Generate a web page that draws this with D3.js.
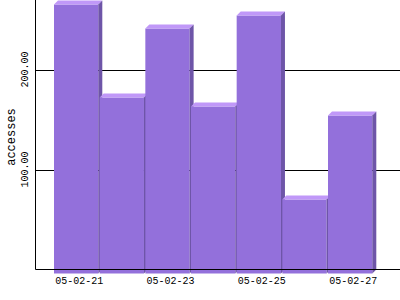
<!DOCTYPE html>
<html>
<head>
<meta charset="utf-8">
<script src="https://cdn.jsdelivr.net/npm/d3@7"></script>
<style>
  body { margin: 0; background: #fff; }
  svg { display: block; }
</style>
</head>
<body>
<div id="chart-area"></div>
<script>
const dates = ["05-02-21", "05-02-22", "05-02-23", "05-02-24", "05-02-25", "05-02-26", "05-02-27"];
const accesses = [269, 176, 245, 167, 258, 74, 158];
const yTicks = [100, 200];
const xTickLabels = ["05-02-21", "05-02-23", "05-02-25", "05-02-27"];

let width = 400, height = 300;
let depth = 4;
let axisX = 35.5, axisY = 269.5;

let svg = d3.select("#chart-area")
			.append("svg")
			.attr("width", width)
			.attr("height", height);

let xVal = d3.scaleBand()
			.domain(dates)
			.range([54, 372.3])
			.paddingInner(0.03)
			.paddingOuter(0);

let yVal = d3.scaleLinear()
			.domain([0, 270])
			.range([axisY, axisY - 270]);

// grid lines behind the bars
svg.append("g")
	.selectAll("line")
	.data(yTicks)
	.enter()
	.append("line")
	.attr("x1", axisX)
	.attr("x2", width)
	.attr("y1", d => Math.round(yVal(d)) + 0.5)
	.attr("y2", d => Math.round(yVal(d)) + 0.5)
	.attr("stroke", "#000")
	.attr("stroke-width", 1);

// 3d bars: front face is shifted down-left by depth
let bars = svg.append("g")
			.selectAll("g")
			.data(dates)
			.enter()
			.append("g");

let w = xVal.bandwidth();
function front(d, i) {
	return {x: xVal(d), top: yVal(accesses[i]) + depth, bottom: axisY + depth};
}

bars.append("rect")
	.attr("x", (d, i) => front(d, i).x)
	.attr("y", (d, i) => front(d, i).top)
	.attr("width", w)
	.attr("height", (d, i) => front(d, i).bottom - front(d, i).top)
	.attr("fill", "#9370db");

bars.append("polygon")
	.attr("points", (d, i) => {
		let f = front(d, i);
		return [[f.x, f.top], [f.x + depth, f.top - depth], [f.x + w + depth, f.top - depth], [f.x + w, f.top]].join(" ");
	})
	.attr("fill", "#c098f8");

bars.append("polygon")
	.attr("points", (d, i) => {
		let f = front(d, i);
		return [[f.x + w, f.top], [f.x + w + depth, f.top - depth], [f.x + w + depth, f.bottom - depth], [f.x + w, f.bottom]].join(" ");
	})
	.attr("fill", "#6e55a8");

// axes
svg.append("line")
	.attr("x1", axisX).attr("x2", axisX)
	.attr("y1", 0).attr("y2", axisY)
	.attr("stroke", "#000");

svg.append("line")
	.attr("x1", axisX).attr("x2", width)
	.attr("y1", axisY).attr("y2", axisY)
	.attr("stroke", "#000");

// x tick labels, every other day
svg.append("g")
	.selectAll("text")
	.data(xTickLabels)
	.enter()
	.append("text")
	.attr("x", d => xVal(d) + w / 2 + 3)
	.attr("y", 284)
	.attr("text-anchor", "middle")
	.attr("font-family", "'Liberation Mono', 'DejaVu Sans Mono', monospace")
	.attr("font-size", "10px")
	.attr("fill", "#000")
	.text(d => d);

// y tick labels, rotated
svg.append("g")
	.selectAll("text")
	.data(yTicks)
	.enter()
	.append("text")
	.attr("transform", d => "translate(28," + yVal(d) + ") rotate(-90)")
	.attr("text-anchor", "middle")
	.attr("font-family", "'Liberation Mono', 'DejaVu Sans Mono', monospace")
	.attr("font-size", "10px")
	.attr("fill", "#000")
	.text(d => d.toFixed(2));

svg.append("text")
	.attr("transform", "translate(15,137) rotate(-90)")
	.attr("text-anchor", "middle")
	.attr("font-family", "'Liberation Mono', 'DejaVu Sans Mono', monospace")
	.attr("font-size", "12px")
	.attr("fill", "#000")
	.text("accesses");
</script>
</body>
</html>
